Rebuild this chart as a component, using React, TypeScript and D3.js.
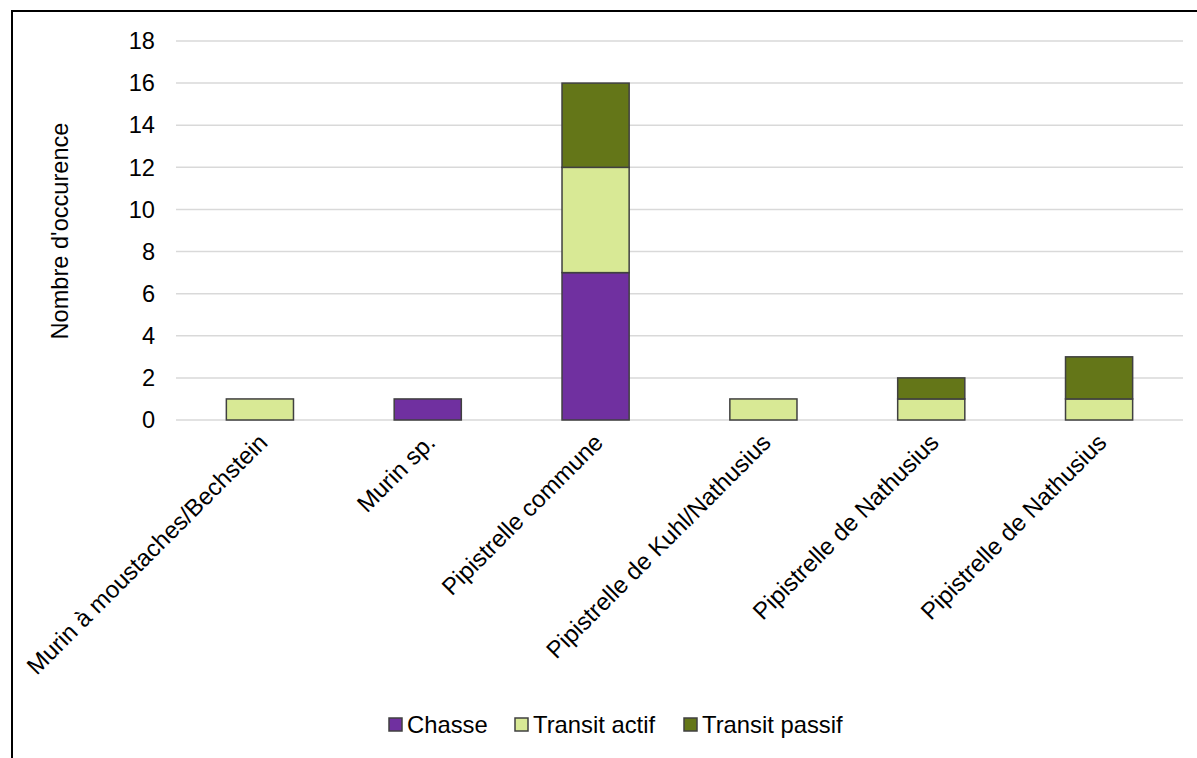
import React from "react";
import * as d3 from "d3";

const categories = [
  "Murin à moustaches/Bechstein",
  "Murin sp.",
  "Pipistrelle commune",
  "Pipistrelle de Kuhl/Nathusius",
  "Pipistrelle de Nathusius",
  "Pipistrelle de Nathusius",
];
const chasse = [0, 1, 7, 0, 0, 0];
const transitActif = [1, 0, 5, 1, 1, 1];
const transitPassif = [0, 0, 4, 0, 1, 2];
const seriesNames = ["Chasse", "Transit actif", "Transit passif"];
const yTicks = [0, 2, 4, 6, 8, 10, 12, 14, 16, 18];

const colors = ["#7030A0", "#D8E995", "#647618"];
const FONT = "'Liberation Sans', Arial, sans-serif";

export default function App() {
  const W = 1197, H = 758;
  const left = 176, right = 1183, top = 41, bottom = 420;
  const idx = categories.map((_, i) => i);
  const x = d3.scaleBand<number>().domain(idx).range([left, right]).paddingInner(0.6).paddingOuter(0.3);
  const y = d3.scaleLinear().domain([0, 18]).range([bottom, top]);
  const rows = idx.map((i) => ({ i, s0: chasse[i], s1: transitActif[i], s2: transitPassif[i] }));
  const stack = d3.stack<any>().keys(["s0", "s1", "s2"]);
  const stacked = stack(rows);

  return (
    <svg width={W} height={H} style={{ position: "absolute", left: 0, top: 0, background: "#fff" }} fontFamily={FONT}>
      <rect x={0} y={0} width={W} height={H} fill="#fff" />
      <rect x={12} y={11} width={1400} height={1000} fill="none" stroke="#000" strokeWidth={2} />
      {yTicks.map((t) => (
        <g key={t}>
          <line x1={left} x2={right} y1={y(t)} y2={y(t)} stroke="#D9D9D9" strokeWidth={1.5} />
          <text x={155} y={y(t)} dy="0.35em" textAnchor="end" fontSize={23.6} fill="#000">{t}</text>
        </g>
      ))}
      <text transform={`translate(68,231) rotate(-90)`} textAnchor="middle" fontSize={23.6} fill="#000">Nombre d'occurence</text>
      {stacked.map((layer, si) => (
        <g key={si}>
          {layer.map((d, i) =>
            d[1] - d[0] > 0 ? (
              <rect key={i} x={x(i)!} y={y(d[1])} width={x.bandwidth()} height={y(d[0]) - y(d[1])}
                fill={colors[si]} stroke="#404040" strokeWidth={1.5} />
            ) : null
          )}
        </g>
      ))}
      {categories.map((c, i) => {
        const cx = x(i)! + x.bandwidth() / 2;
        return (
          <text key={i} transform={`translate(${cx + 3},${438}) rotate(-45)`} textAnchor="end" dy="0.35em" fontSize={24} fill="#000">{c}</text>
        );
      })}
      {seriesNames.map((n, i) => {
        const lx = [389, 515, 684][i];
        return (
          <g key={n}>
            <rect x={lx} y={718} width={13} height={13} fill={colors[i]} stroke="#404040" strokeWidth={1.5} />
            <text x={lx + 18} y={733} fontSize={23.8} fill="#000">{n}</text>
          </g>
        );
      })}
    </svg>
  );
}
